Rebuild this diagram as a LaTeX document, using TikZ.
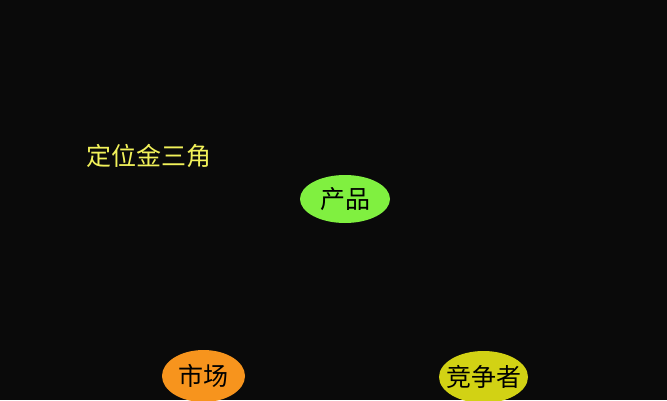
\documentclass[tikz,border=0pt]{standalone}
\usepackage{fontspec}
\newfontfamily\cjk{Noto Sans CJK SC}
\usetikzlibrary{shapes.geometric,positioning}
\definecolor{bgblack}{HTML}{0A0A0A}
\definecolor{titleyellow}{HTML}{F2F25A}
\definecolor{prodgreen}{HTML}{80F040}
\definecolor{mktorange}{HTML}{F7941D}
\definecolor{compyellow}{HTML}{D2D214}

\begin{document}
\begin{tikzpicture}[x=1pt,y=-1pt,
   every node/.append style={font=\cjk\fontsize{25}{30}\selectfont},
   blob/.style={ellipse,inner xsep=-12pt,inner ysep=-4pt,text=black,minimum width=90pt,minimum height=48pt}]
\fill[bgblack] (0,0) rectangle (667,400);
\useasboundingbox (0,0) rectangle (667,400);

\node (title) [text=titleyellow] at (148.5,156) {定位金三角};

\node (prod) [blob,fill=prodgreen] at (345,199) {产品};
\node (mkt)  [blob,fill=mktorange,minimum width=83pt,minimum height=52pt] at (203.5,376) {市场};
\node (comp) [blob,fill=compyellow,minimum width=89pt,minimum height=52pt] at (483.5,377) {竞争者};
\end{tikzpicture}
\end{document}
